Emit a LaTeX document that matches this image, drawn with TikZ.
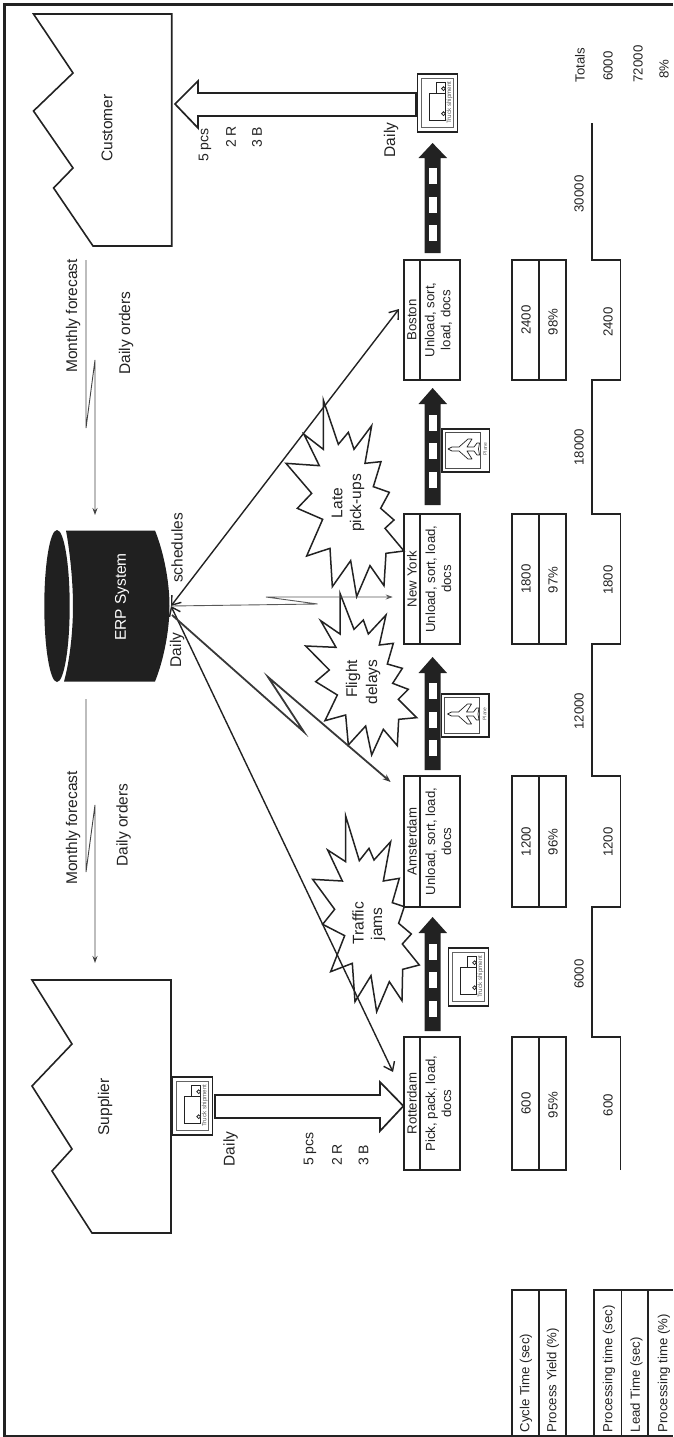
\documentclass[tikz,border=0pt]{standalone}
\usepackage{fontspec}
\setmainfont{Liberation Sans}
\usetikzlibrary{arrows.meta,calc}
\definecolor{ink}{HTML}{222222}
\newcommand{\ProcBox}[5]{%
  \node[boxline,minimum width=56pt,minimum height={#3-#2}] (#1) at (432,{(#2+#3)/2}) {};
  \draw[boxpath] (420,#2) -- (420,#3);
  \node[vtext,fs] (#1name) at (412,{(#2+#3)/2}) {#4};
  \node[vtext,fs,align=center] (#1body) at (438.5,{(#2+#3)/2}) {#5};
}
\newcommand{\DataBox}[4]{%
  \node[boxline,minimum width=54pt,minimum height={#3-#2}] (#1) at (539,{(#2+#3)/2}) {};
  \draw[boxpath] (539,#2) -- (539,#3);
  \node[vtext,fs] (#1ct) at (526,{(#2+#3)/2}) {#4};
}
\newcommand{\Road}[6]{%
  \path[fill=ink] (432.6,#2) -- (447,#3) -- (440.5,#3) -- (440.5,#4) -- (424.5,#4) -- (424.5,#3) -- (418.5,#3) -- cycle;
  \foreach \d in {#5,#6}{\fill[white] (429,\d) rectangle (436.5,\d+15.5);}
}
\tikzset{
  x=1pt,y=-1pt,
  fs/.style={font=\fontsize{13.2}{16}\selectfont},
  big/.style={font=\fontsize{15.5}{18.5}\selectfont},
  vtext/.style={rotate=90,inner sep=0pt,text=ink},
  boxline/.style={draw=ink,line width=1.7pt,inner sep=0pt,rectangle,fill=none},
  boxpath/.style={draw=ink,line width=1.7pt},
  frameline/.style={draw=ink,line width=2.6pt},
  shape line/.style={draw=ink,line width=1.6pt,line join=miter},
  burst/.style={draw=ink,line width=1.5pt,line join=miter},
  barbs/.style={draw=ink,line width=1.4pt,{Straight Barb[length=8pt,width=12pt]}-{Straight Barb[length=8pt,width=12pt]}},
  info/.style={draw=ink!85,line width=.9pt,-{Stealth[length=7pt,width=5pt]}},
  infothick/.style={draw=ink!90,line width=1.8pt,-{Stealth[length=8pt,width=6pt]}},
  truckbox/.pic={
    \draw[ink,line width=1.5pt] (0,0) rectangle (40,58);
    \draw[ink!70,line width=.9pt] (3.5,4) rectangle (35.5,53.5);
    \draw[ink,line width=.8pt] (11.5,19) rectangle (27.5,46);
    \draw[ink,line width=.8pt] (18.5,8) rectangle (27.5,19);
    \draw[ink,fill=white,line width=.8pt] (26,14.7) circle (1.9);
    \draw[ink,fill=white,line width=.8pt] (26,39.7) circle (1.9);
    \node[rotate=90,inner sep=0pt,text=ink!75,font=\fontsize{6.2}{7}\selectfont] (label) at (32,28.7) {Truck shipment};
  },
  planebox/.pic={
    \draw[ink,line width=1.5pt] (0,0) rectangle (47.5,43);
    \draw[ink!80,line width=.9pt] (3,3) rectangle (38,39);
    \begin{scope}[shift={(21,20)}]
      \draw[ink,line width=.7pt,fill=white,line join=round]
        (-15,0) -- (-11,-2) -- (-4,-2) -- (5,-10) -- (9,-10) -- (4,-2) -- (11,-2) -- (14,-6) -- (16.5,-6) -- (15.5,0)
        -- (16.5,6) -- (14,6) -- (11,2) -- (4,2) -- (9,10) -- (5,10) -- (-4,2) -- (-11,2) -- cycle;
    \end{scope}
    \node[rotate=90,inner sep=0pt,text=ink!75,font=\fontsize{5}{6}\selectfont] (label) at (43,20) {Plane};
  }
}
\begin{document}
\begin{tikzpicture}
\useasboundingbox (0,0) rectangle (673,1437);
% frame
\draw[frameline] (673,4.5) -- (4.5,4.5) -- (4.5,1436) -- (673,1436);

% customer & supplier
\draw[shape line] (33.5,14) -- (171.7,14) -- (171.7,246) -- (93,246) -- (53.6,188) -- (73,168) -- (33.5,111) -- (73,73) -- cycle;
\node[vtext,big] (customer) at (107,128) {Customer};
\draw[shape line] (32,980) -- (171,980) -- (171,1233) -- (92,1233) -- (52,1171) -- (72,1149) -- (32,1086) -- (72,1044) -- cycle;
\node[vtext,big] (supplier) at (105,1107) {Supplier};

% ERP
\fill[ink!95!black] (57,606) ellipse [x radius=12.7pt,y radius=76pt];
\fill[ink!95!black] (66,530.5) -- (155,530.5) .. controls (163,550) and (169.5,580) .. (169.5,606)
  .. controls (169.5,632) and (163,662) .. (155,681.5) -- (64,681.5)
  .. controls (70,660) and (73,630) .. (73,606) .. controls (73,582) and (70,552) .. (66,530.5) -- cycle;
\node[vtext,big,text=white] (erp) at (122,597) {ERP System};
\coordinate (erpport) at (171,606);
\coordinate (erpportb) at (172,615);
\node[vtext,big] (sched) at (177,548) {schedules};
\node[vtext,big] (erpdaily) at (177,650) {Daily};

% process boxes
\ProcBox{rot}{1037}{1170}{Rotterdam}{Pick, pack, load,\\docs}
\ProcBox{ams}{776}{907}{Amsterdam}{Unload, sort, load,\\docs}
\ProcBox{ny}{514}{644}{New York}{Unload, sort, load,\\docs}
\ProcBox{bos}{260}{380}{Boston}{Unload, sort,\\load, docs}

% data boxes
\DataBox{drot}{1037}{1170}{600}
\node[vtext,fs] (drotb) at (553,1105) {95\%};
\DataBox{dams}{776}{907}{1200}
\node[vtext,fs] (damsb) at (553,842) {96\%};
\DataBox{dny}{514}{644}{1800}
\node[vtext,fs] (dnyb) at (553,580) {97\%};
\DataBox{dbos}{260}{380}{2400}
\node[vtext,fs] (dbosb) at (553,322) {98\%};

% left tables
\draw[boxpath] (512,1436) -- (512,1290) -- (566,1290) -- (566,1436);
\draw[boxpath] (539,1290) -- (539,1436);
\node[vtext,fs,anchor=west] (lct) at (526,1432.5) {Cycle Time (sec)};
\node[vtext,fs,anchor=west] (lpy) at (553,1432.5) {Process Yield (\%)};
\draw[boxpath] (594,1436) -- (594,1290) -- (673,1290);
\draw[boxpath] (621.5,1290) -- (621.5,1436);
\draw[boxpath] (648,1290) -- (648,1436);
\node[vtext,fs,anchor=west] (lpt) at (609,1432.5) {Processing time (sec)};
\node[vtext,fs,anchor=west] (llt) at (636.5,1432.5) {Lead Time (sec)};
\node[vtext,fs,anchor=west] (lpp) at (664,1432.5) {Processing time (\%)};

% timeline
\draw[boxpath] (620.6,1170) -- (620.6,1037) -- (592,1037) -- (592,907) -- (620.6,907) -- (620.6,776) -- (592,776)
  -- (592,644) -- (620.6,644) -- (620.6,514) -- (592,514) -- (592,380) -- (620.6,380) -- (620.6,260) -- (592,260) -- (592,123);
\node[vtext,fs] (t1) at (608,1105) {600};
\node[vtext,fs] (t2) at (579,974) {6000};
\node[vtext,fs] (t3) at (608,842) {1200};
\node[vtext,fs] (t4) at (579,711) {12000};
\node[vtext,fs] (t5) at (608,580) {1800};
\node[vtext,fs] (t6) at (579,447) {18000};
\node[vtext,fs] (t7) at (608,322) {2400};
\node[vtext,fs] (t8) at (579,194) {30000};
\node[vtext,fs] (tot1) at (580,65) {Totals};
\node[vtext,fs] (tot2) at (608,66) {6000};
\node[vtext,fs] (tot3) at (638,64) {72000};
\node[vtext,fs] (tot4) at (664,69) {8\%};

% roads
\Road{r1}{917}{933}{1031}{944,972}{1001}
\Road{r2}{657}{673}{770}{683,712}{740}
\Road{r3}{388}{404}{505}{415,443}{472}
\Road{r4}{143}{158}{253}{168,197}{225}

% transport icons
\pic (truck1) at (172.7,1077) {truckbox};
\pic (truck2) at (448.5,948) {truckbox};
\pic (truck3) at (417.5,74) {truckbox};
\pic (plane1) at (441.5,694) {planebox};
\pic (plane2) at (442,429) {planebox};

% push arrows
\draw[shape line,line width=1.7pt] (215,1095) -- (380,1095) -- (380,1082) -- (403.4,1106) -- (380,1131) -- (380,1118) -- (215,1118) -- cycle;
\draw[shape line,line width=1.7pt] (416,93) -- (198,93) -- (198,81) -- (175,104) -- (198,128) -- (198,116) -- (416,116) -- cycle;

% labels near flow
\tikzset{qty/.style={font=\fontsize{14}{16}\selectfont}}
\node[vtext,big] (sdaily) at (230.5,1149) {Daily};
\node[vtext,qty,anchor=west] (s5) at (310,1166) {5 pcs};
\node[vtext,qty,anchor=west] (s2) at (337,1166) {2 R};
\node[vtext,qty,anchor=west] (s3) at (363.5,1166) {3 B};
\node[vtext,big] (cdaily) at (391,140) {Daily};
\node[vtext,qty,anchor=west] (c5) at (205,162) {5 pcs};
\node[vtext,qty,anchor=west] (c2) at (231,148) {2 R};
\node[vtext,qty,anchor=west] (c3) at (257,148) {3 B};

% forecast flows
\coordinate (fc1a) at (86,699); \coordinate (fc1b) at (86,872); \coordinate (fc1c) at (95,805); \coordinate (fc1d) at (95,963);
\draw[info] (fc1a) -- (fc1b) -- (fc1c) -- (fc1d);
\coordinate (fc2a) at (86,260); \coordinate (fc2b) at (86,428); \coordinate (fc2c) at (95,360); \coordinate (fc2d) at (95,515);
\draw[info] (fc2a) -- (fc2b) -- (fc2c) -- (fc2d);
\node[vtext,big] (mf1) at (73,828) {Monthly forecast};
\node[vtext,big] (do1) at (123.6,825) {Daily orders};
\node[vtext,big] (mf2) at (73,316) {Monthly forecast};
\node[vtext,big] (do2) at (126,333) {Daily orders};

% bursts (coordinates in zoom units)
\draw[burst,shift={(300,810)},x=.3333pt,y=-.3333pt] (137,18)--(178,152)--(207,115)--(222,150)--(272,95)--(250,213)--(298,205)--(277,278)--(313,290)--(296,340)--(334,372)--(307,402)--(358,465)--(308,478)--(306,572)--(268,515)--(230,605)--(213,497)--(165,575)--(157,460)--(92,485)--(134,377)--(68,343)--(104,298)--(38,208)--(127,213)--(83,120)--(137,155)--cycle;
\node[vtext,big] (b1a) at (358,923) {Traffic};
\node[vtext,big] (b1b) at (378,924) {jams};
\draw[burst,shift={(300,590)},x=.3333pt,y=-.3333pt] (120,10)--(162,118)--(190,90)--(205,132)--(258,75)--(238,165)--(280,160)--(262,222)--(307,235)--(278,280)--(325,298)--(295,328)--(350,383)--(296,388)--(292,467)--(250,418)--(215,495)--(197,408)--(145,465)--(137,375)--(75,392)--(112,315)--(47,275)--(88,240)--(17,168)--(108,172)--(62,92)--(120,132)--cycle;
\node[vtext,big] (b2a) at (353,679) {Flight};
\node[vtext,big] (b2b) at (373,682) {delays};
\draw[burst,shift={(290,395)},x=.3333pt,y=-.3333pt] (100,15)--(145,148)--(175,112)--(192,163)--(245,92)--(225,205)--(273,200)--(250,275)--(298,292)--(272,340)--(312,375)--(285,400)--(342,468)--(288,475)--(282,572)--(240,512)--(200,605)--(182,497)--(127,575)--(120,460)--(50,483)--(98,373)--(22,340)--(65,295)--(-12,205)--(88,212)--(42,118)--(100,163)--cycle;
\node[vtext,big] (b3a) at (337,503) {Late};
\node[vtext,big] (b3b) at (357,503) {pick-ups};

% ERP connectors
\coordinate (tipRot) at (393,1072);
\coordinate (tipBos) at (399,309);
\draw[barbs] (erpport) -- (tipRot);
\draw[barbs] (erpport) -- (tipBos);
\coordinate (nyz1) at (317.6,604); \coordinate (nyz2) at (266,597); \coordinate (tipNy) at (392.7,597);
\draw[info,draw=ink!75] (erpport) -- (nyz1) -- (nyz2) -- (tipNy);
\coordinate (amz1) at (304,732); \coordinate (amz2) at (268,677); \coordinate (tipAm) at (390.6,782);
\draw[infothick] (erpportb) -- (amz1) -- (amz2) -- (tipAm);
\end{tikzpicture}
\end{document}
